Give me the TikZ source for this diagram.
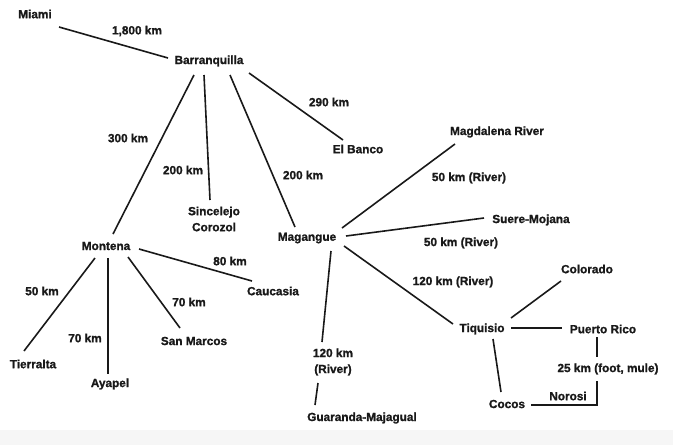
\documentclass[tikz,border=0pt]{standalone}
\usepackage{fontspec}
\setmainfont{Liberation Sans}[BoldFeatures={FakeBold=1.2}]
\begin{document}
\begin{tikzpicture}[x=1pt,y=-1pt,
  lbl/.style={font=\bfseries\fontsize{11.8}{16}\selectfont, inner sep=1pt, text=black!90},
  town/.style={lbl},
  link/.style={line width=1.6pt, black!90}]
\useasboundingbox (0,0) rectangle (673,445);
\fill[gray!7] (0,430) rectangle (673,445);
% towns
\node[town] (miami) at (35,14) {Miami};
\node[town] (barr) at (209,61) {Barranquilla};
\node[town] (mont) at (106,246) {Montena};
\node[town, align=center] (sinc) at (214,219) {Sincelejo\\Corozol};
\node[town] (mag) at (307,238) {Magangue};
\node[town] (elb) at (358,149) {El Banco};
\node[town] (magd) at (497,132) {Magdalena River};
\node[town] (suere) at (531,220) {Suere-Mojana};
\node[town] (tiq) at (482,329) {Tiquisio};
\node[town] (colo) at (587,269) {Colorado};
\node[town] (pr) at (603,329) {Puerto Rico};
\node[town] (cocos) at (507,404) {Cocos};
\node[town] (guar) at (362,418) {Guaranda-Majagual};
\node[town] (tierr) at (33,364) {Tierralta};
\node[town] (ayap) at (110,384) {Ayapel};
\node[town] (sanm) at (194,341) {San Marcos};
\node[town] (cauc) at (273,291) {Caucasia};
% distance labels
\node[lbl] (l1800) at (137,31) {1,800 km};
\node[lbl] (l300) at (128,138) {300 km};
\node[lbl] (l290) at (329,102) {290 km};
\node[lbl] (l200a) at (183,170) {200 km};
\node[lbl] (l200b) at (303,175) {200 km};
\node[lbl] (l50ra) at (469,178) {50 km (River)};
\node[lbl] (l50rb) at (461,243) {50 km (River)};
\node[lbl] (l120r) at (453,282) {120 km (River)};
\node[lbl, align=center] (l120g) at (333,362) {120 km\\(River)};
\node[lbl] (l50) at (42,291) {50 km};
\node[lbl] (l70a) at (85,338) {70 km};
\node[lbl] (l70b) at (189,302) {70 km};
\node[lbl] (l80) at (230,261) {80 km};
\node[lbl] (l25) at (608,369) {25 km (foot, mule)};
\node[lbl] (noro) at (568,396) {Norosi};
\coordinate (corner) at (597,405);
% connectors
\draw[link] ([shift={(24,13)}]miami.center) -- ([shift={(-41,-3)}]barr.center);
\draw[link] ([shift={(-15,14)}]barr.center) -- ([shift={(7,-12)}]mont.center);
\draw[link] ([shift={(-5,14)}]barr.center) -- ([shift={(-4,-19)}]sinc.center);
\draw[link] ([shift={(21,14)}]barr.center) -- ([shift={(-12,-11)}]mag.center);
\draw[link] ([shift={(40,12)}]barr.center) -- ([shift={(-15,-9)}]elb.center);
\draw[link] ([shift={(35,-10)}]mag.center) -- ([shift={(-42,12)}]magd.center);
\draw[link] ([shift={(39,-2)}]mag.center) -- ([shift={(-47,-2)}]suere.center);
\draw[link] ([shift={(37,8)}]mag.center) -- ([shift={(-29,-5)}]tiq.center);
\draw[link] ([shift={(24,13)}]mag.center) -- ([shift={(-11,-20)}]l120g.center);
\draw[link] ([shift={(-15,21)}]l120g.center) -- ([shift={(-47,-13)}]guar.center);
\draw[link] ([shift={(-11,12)}]mont.center) -- ([shift={(-9,-13)}]tierr.center);
\draw[link] ([shift={(2,12)}]mont.center) -- ([shift={(-2,-10)}]ayap.center);
\draw[link] ([shift={(22,11)}]mont.center) -- ([shift={(-14,-13)}]sanm.center);
\draw[link] ([shift={(33,3)}]mont.center) -- ([shift={(-21,-10)}]cauc.center);
\draw[link] ([shift={(29,-11)}]tiq.center) -- ([shift={(-26,12)}]colo.center);
\draw[link] ([shift={(29,-1)}]tiq.center) -- ([shift={(-41,-1)}]pr.center);
\draw[link] ([shift={(11,10)}]tiq.center) -- ([shift={(-6,-12)}]cocos.center);
\draw[link] ([shift={(-6,8)}]pr.center) -- ([shift={(-11,-12)}]l25.center);
\draw[link] ([shift={(-11,12)}]l25.center) -- (corner) -- ([shift={(24,1)}]cocos.center);
\end{tikzpicture}
\end{document}
